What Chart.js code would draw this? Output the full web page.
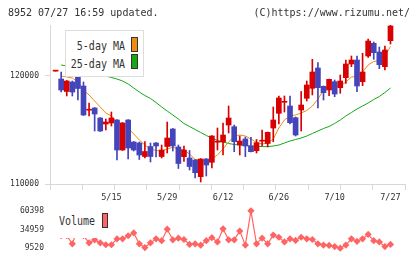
<!DOCTYPE html>
<html><head><meta charset="utf-8">
<script src="https://cdn.jsdelivr.net/npm/chart.js@4.4.1/dist/chart.umd.min.js"></script>
<style>
html,body{margin:0;padding:0;background:#fff;width:420px;height:259px;overflow:hidden;}
#wrap{position:relative;width:420px;height:259px;}
canvas{position:absolute;left:0;}
#main{top:0;}
#vol{top:200px;}
.t{position:absolute;font-family:"DejaVu Sans Mono",monospace;font-size:10px;line-height:12px;color:#333;white-space:pre;}
.lg{transform:scaleY(1.22);transform-origin:0 9.5px;}
.box{position:absolute;background:#fff;box-sizing:border-box;}
.sw{position:absolute;box-sizing:border-box;border:1px solid #333;}
</style></head>
<body><div id="wrap">
<canvas id="main" width="420" height="205" style="width:420px;height:205px"></canvas>
<canvas id="vol" width="420" height="59" style="width:420px;height:59px"></canvas>
<div class="t" style="left:8px;top:6.5px;">8952 07/27 16:59 updated.</div>
<div class="t" style="right:10px;top:6.5px;">(C)https://www.rizumu.net/</div>
<div class="box" style="left:65px;top:30px;width:79px;height:47px;border:1px solid #ddd;"></div>
<div class="t lg" style="left:65px;width:60px;text-align:right;top:41.2px;">5-day MA</div>
<div class="t lg" style="left:65px;width:60px;text-align:right;top:58.8px;">25-day MA</div>
<div class="sw" style="left:131px;top:37px;width:7px;height:15px;background:#f08c14;"></div>
<div class="sw" style="left:131px;top:54px;width:7px;height:15px;background:#14a814;"></div>
<div class="box" style="left:51px;top:204px;width:64px;height:33.5px;"></div>
<div class="t lg" style="left:59px;top:216.2px;">Volume</div>
<div class="sw" style="left:102px;top:213px;width:6px;height:15px;background:#ff6464;"></div>
</div>
<script>
// ---- data ----
const xTickIdx = [10, 20, 30, 40, 50, 60];
const xTickLabels = ['5/15', '5/29', '6/12', '6/26', '7/10', '7/27'];
const priceTicks = [110000, 120000];
const volTicks = [9520, 34959, 60398];

const open  = [120450,119722,118565,119444,120093,119074,116833,117037,116111,115556,115648,115926,113148,115926,113889,113796,112546,113472,113796,112546,113472,115093,113426,112528,112407,112222,110676,112315,112009,113870,113889,115463,115306,113611,114167,113519,113083,113963,113750,115185,116546,117565,117222,116139,116852,117935,118861,120741,119046,118704,119472,118917,119843,121111,121481,119472,121852,123028,122222,120861,123269];
const high  = [120480,120370,119583,119537,120370,119444,117500,117083,116157,116019,116667,115972,115694,115972,113935,113889,113935,113796,113842,113611,115741,115139,113611,113519,113102,112268,112361,112361,114491,115185,115648,117222,115463,114444,114352,114324,114120,115000,114815,117130,118148,118148,118148,116204,118565,119537,121546,121231,119074,119722,119630,120093,121481,121852,121852,122102,123426,123148,122685,122778,124722];
const low   = [120440,118518,118148,118148,117778,116343,116296,114907,114861,115000,115370,112222,113102,112315,113056,112268,112407,112037,112500,112407,112870,113056,111435,112083,111296,110556,110185,110741,111481,113148,112685,114722,112991,112685,112528,112963,112870,113519,113426,113917,115556,116667,115556,114444,114907,117685,118241,117037,117778,118176,118083,118398,119324,120861,118546,119102,121731,121546,120676,120556,122963];
const close = [120460,118704,119537,118518,118843,116389,116870,116481,114907,115741,116111,113148,115648,113333,113148,112685,113009,112546,113519,113148,114259,113519,111898,113148,111620,111046,112315,111759,114444,113926,114537,116111,113917,113981,113519,112991,113824,114009,114787,115926,117963,117593,115676,114537,117315,119167,120370,118917,118454,119694,118333,119537,121111,121481,119074,120370,123241,122157,121046,122407,124630];
const ma5  = [null,120000,119907,119815,119444,118704,118241,117685,117130,116574,116296,115741,115556,115185,114630,114074,113611,113241,113102,113056,113241,113398,113259,113148,112778,112269,112222,112037,112315,112685,113241,113889,114398,114537,114444,114167,113843,113704,113796,114167,115185,115926,116296,116389,116574,116806,117222,117870,118704,119167,119074,119074,119444,119907,119954,120370,121019,121343,121435,121852,122731];
const ma25 = [null,121018,120926,120833,120741,120602,120463,120324,120185,120000,119861,119722,119537,119259,118889,118518,118194,117917,117546,117130,116759,116389,116018,115602,115324,115046,114768,114491,114259,114028,113889,113750,113657,113611,113565,113519,113491,113463,113463,113519,113611,113796,113981,114120,114259,114444,114676,114907,115139,115324,115602,115926,116296,116620,116944,117222,117500,117824,118102,118472,118889];
const volume = [31143,26692,26692,15498,36231,26692,16770,20968,16770,14226,14226,22240,22240,26437,30253,15498,10410,16770,22240,19696,35341,20968,23130,21349,14608,15498,13590,19696,23893,18042,35850,20968,20968,32797,13718,60398,15498,23130,15498,27328,24402,18042,22240,20077,24402,22240,21349,15498,13718,13336,11682,9520,13718,22240,18806,22240,28218,19696,18042,11682,14608];

// ---- styling ----
const UP = '#d80000', DOWN = '#4444bb', ORANGE = '#f08c14', GREEN = '#14a814', VOLC = '#ff6464';
const XMIN = -1, XMAX = 62.6;
const FONT = 'DejaVu Sans Mono';
Chart.defaults.font.family = FONT;

const idx = open.map((_, i) => i);
const bodies = idx.map(i => ({x: i, y: [Math.min(open[i], close[i]), Math.max(open[i], close[i])]}));
const wicks = idx.map(i => ({x: i, y: [low[i], high[i]]}));
const colors = idx.map(i => close[i] >= open[i] ? UP : DOWN);
const pts = arr => arr.map((v, i) => ({x: i, y: v}));

new Chart(document.getElementById('main'), {
  type: 'bar',
  data: {datasets: [
    {type: 'bar', data: bodies, backgroundColor: colors, barThickness: 5, grouped: false, minBarLength: 1, order: 0, xAxisID: 'x', yAxisID: 'y'},
    {type: 'bar', data: wicks, backgroundColor: colors, barThickness: 1, grouped: false, order: 1, xAxisID: 'x', yAxisID: 'y'},
    {type: 'line', label: '5-day MA', data: pts(ma5), borderColor: ORANGE, borderWidth: 1, pointRadius: 0, order: 2, xAxisID: 'x', yAxisID: 'y'},
    {type: 'line', label: '25-day MA', data: pts(ma25), borderColor: GREEN, borderWidth: 1, pointRadius: 0, order: 3, xAxisID: 'x', yAxisID: 'y'}
  ]},
  options: {
    responsive: false, animation: false, devicePixelRatio: 1,
    layout: {padding: {top: 25, right: 15, left: 0, bottom: 0}},
    plugins: {legend: {display: false}, tooltip: {enabled: false}},
    scales: {
      x: {type: 'linear', position: 'bottom', weight: 1, min: XMIN, max: XMAX, offset: false,
          grid: {display: false, drawTicks: false, offset: false}, border: {display: false},
          ticks: {autoSkip: false, maxRotation: 0, padding: 9, color: '#333', font: {family: FONT, size: 8.5},
                  callback: v => { const k = xTickIdx.indexOf(v); return k >= 0 ? xTickLabels[k] : ''; }},
          afterBuildTicks: s => { s.ticks = xTickIdx.map(v => ({value: v})); },
          afterFit: s => { s.height = 21; }},
      xg: {type: 'linear', position: 'bottom', weight: 0, min: 0, max: 11, offset: false,
          ticks: {stepSize: 1, display: false},
          grid: {drawOnChartArea: false, tickLength: 6, color: '#d8d8d8', offset: false}, border: {color: '#d8d8d8'},
          afterFit: s => { s.height = 0; }},
      y: {type: 'linear', position: 'left', min: 110000, max: 124722,
          afterBuildTicks: s => { s.ticks = priceTicks.map(v => ({value: v})); },
          afterFit: s => { s.width = 50; },
          grid: {drawOnChartArea: false, tickLength: 5, color: '#d8d8d8'}, border: {color: '#d8d8d8'},
          ticks: {padding: 6, color: '#333', font: {family: FONT, size: 8}, callback: v => String(v)}}
    }
  }
});

new Chart(document.getElementById('vol'), {
  type: 'line',
  data: {datasets: [
    {label: 'Volume', data: pts(volume), borderColor: VOLC, backgroundColor: VOLC, borderWidth: 1.2,
     pointStyle: 'rectRot', pointRadius: 3.6, pointBorderWidth: 0, pointBackgroundColor: VOLC, clip: false}
  ]},
  options: {
    responsive: false, animation: false, devicePixelRatio: 1,
    layout: {padding: {top: 9, right: 15, left: 0, bottom: 10}},
    plugins: {legend: {display: false}, tooltip: {enabled: false}},
    scales: {
      x: {type: 'linear', min: XMIN, max: XMAX, display: false, offset: false},
      y: {type: 'linear', position: 'left', min: volTicks[0], max: volTicks[2],
          afterBuildTicks: s => { s.ticks = volTicks.map(v => ({value: v})); },
          afterFit: s => { s.width = 50; },
          grid: {display: false, drawTicks: false}, border: {display: false},
          ticks: {padding: 6, color: '#333', font: {family: FONT, size: 8}, callback: v => String(v)}}
    }
  }
});
</script>
</body></html>
